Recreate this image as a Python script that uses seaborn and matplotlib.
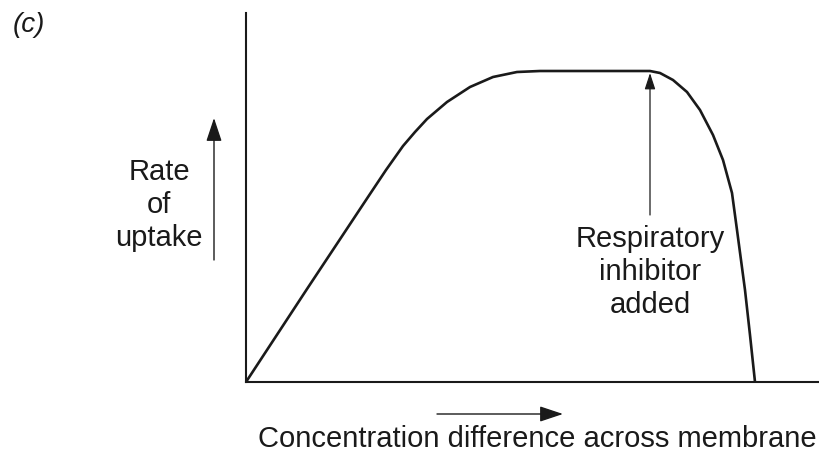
import matplotlib
matplotlib.use("Agg")
import matplotlib.pyplot as plt
import seaborn as sns

# Curve (arbitrary units: pixel offsets from the origin)
conc = [0, 61, 122, 140, 157, 169, 181, 201, 224, 247, 271, 294, 404,
        414, 427, 441, 454, 467, 477, 486, 491, 495, 499, 504, 509]
rate = [0, 93, 185, 212, 236, 250, 263, 280, 295, 305, 310, 311, 311,
        309, 302, 290, 272, 247, 222, 189, 152, 122, 92, 47, 0]

inhibitor_x = 404
inhibitor_y = 311

y_label = "Rate\nof\nuptake"
x_label = "Concentration difference across membrane"
note = "Respiratory\ninhibitor\nadded"
panel = "(c)"

sns.set_theme(style="white")
plt.rcParams["font.family"] = ["Liberation Sans", "DejaVu Sans"]

W, H = 819, 461
ink = "#1a1a1a"
fig = plt.figure(figsize=(W / 100, H / 100), dpi=100)
ax = fig.add_axes([246 / W, 1 - 382 / H, 1 - 246 / W, (382 - 13) / H])

sns.lineplot(x=conc, y=rate, ax=ax, color=ink, linewidth=1.9,
             solid_joinstyle="round", solid_capstyle="round")

ax.set_xlim(0, 573)
ax.set_ylim(0, 369)
ax.set_xticks([])
ax.set_yticks([])
ax.set_xlabel("")
ax.set_ylabel("")
for side in ("top", "right"):
    ax.spines[side].set_visible(False)
for side in ("left", "bottom"):
    ax.spines[side].set_color(ink)
    ax.spines[side].set_linewidth(1.5)

# arrow marking the inhibitor
ax.annotate("", xy=(inhibitor_x, inhibitor_y - 2), xytext=(inhibitor_x, 167),
            arrowprops=dict(arrowstyle="-|>,head_length=0.55,head_width=0.18",
                            mutation_scale=18, color=ink, lw=0.9,
                            shrinkA=0, shrinkB=0))

# direction arrows next to the labels
arrow = dict(arrowstyle="-|>,head_length=0.6,head_width=0.2",
             mutation_scale=24, color=ink, lw=1.0, shrinkA=0, shrinkB=0)
ax.annotate("", xy=(214, 343), xytext=(214, 201), xycoords="figure pixels",
            textcoords="figure pixels", arrowprops=arrow)
ax.annotate("", xy=(563, 47), xytext=(437, 47), xycoords="figure pixels",
            textcoords="figure pixels", arrowprops=arrow)

fs = 21
fig.text(13 / W, 1 - 25 / H, panel, ha="left", va="center", style="italic",
         color=ink, fontsize=20)
fig.text(159 / W, 1 - 205 / H, y_label, ha="center", va="center",
         color=ink, fontsize=fs, linespacing=1.22)
fig.text(650 / W, 1 - 272 / H, note, ha="center", va="center",
         color=ink, fontsize=fs, linespacing=1.22)
fig.text(258 / W, 1 - 439 / H, x_label, ha="left", va="center",
         color=ink, fontsize=fs)

fig.savefig("out.png", dpi=100)
